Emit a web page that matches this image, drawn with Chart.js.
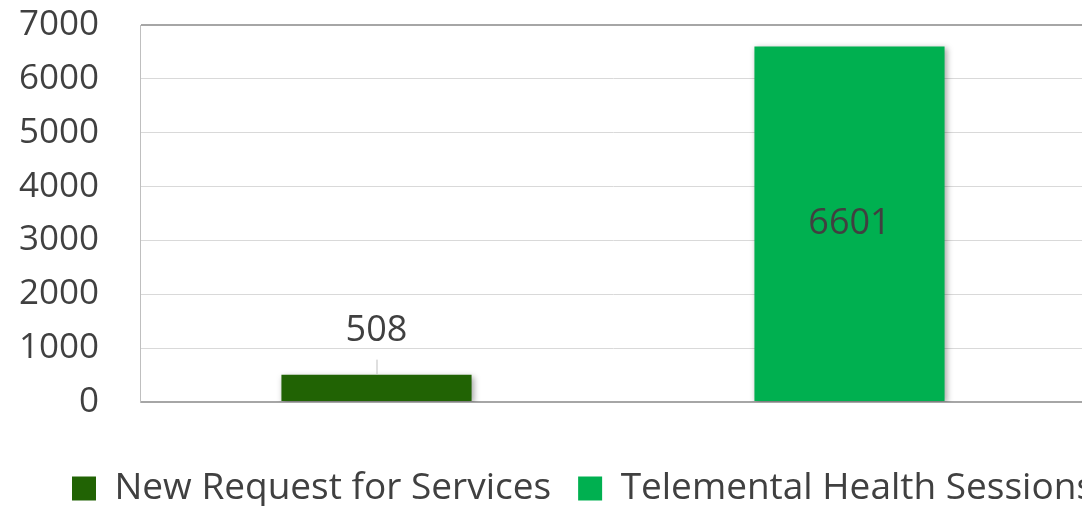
<!DOCTYPE html>
<html>
<head>
<meta charset="utf-8">
<script src="https://cdn.jsdelivr.net/npm/chart.js@4.4.1/dist/chart.umd.min.js"></script>
<style>
  html, body { margin: 0; padding: 0; background: #fff; overflow: hidden; }
  #wrap { width: 1082px; height: 506px; overflow: hidden; }
  canvas { display: block; }
</style>
</head>
<body>
<div id="wrap"><canvas id="chart" width="1166" height="506"></canvas></div>
<script>
const categories = ['', ''];
const seriesNames = ['New Request for Services', 'Telemental Health Sessions'];
const requestValues = [508, null];
const sessionValues = [null, 6601];
const yTicks = [0, 1000, 2000, 3000, 4000, 5000, 6000, 7000];

const textColor = '#404040';
const fontFamily = '"Open Sans", "DejaVu Sans", sans-serif';

// data labels: small one sits above its bar with a leader line, big one sits inside
const barLabels = {
  id: 'barLabels',
  afterDatasetsDraw(chart) {
    const ctx = chart.ctx;
    ctx.save();
    ctx.font = '36px ' + fontFamily;
    ctx.fillStyle = textColor;
    ctx.textAlign = 'center';
    ctx.textBaseline = 'middle';
    chart.data.datasets.forEach((ds, i) => {
      chart.getDatasetMeta(i).data.forEach((bar, j) => {
        const v = ds.data[j];
        if (v == null) return;
        const h = bar.base - bar.y;
        if (h < 100) {
          ctx.strokeStyle = '#bfbfbf';
          ctx.lineWidth = 1;
          ctx.beginPath();
          ctx.moveTo(bar.x + 0.5, bar.y - 15);
          ctx.lineTo(bar.x + 0.5, bar.y);
          ctx.stroke();
          ctx.fillText(String(v), bar.x, bar.y - 44);
        } else {
          ctx.fillText(String(v), bar.x, (bar.y + bar.base) / 2);
        }
      });
    });
    ctx.restore();
  }
};

// soft shadow under the bars
const barShadow = {
  id: 'barShadow',
  beforeDatasetsDraw(chart) {
    const ctx = chart.ctx;
    ctx.save();
    ctx.shadowColor = 'rgba(0,0,0,0.35)';
    ctx.shadowBlur = 6;
    ctx.shadowOffsetX = 2;
    ctx.shadowOffsetY = 2;
  },
  afterDatasetsDraw(chart) {
    chart.ctx.restore();
  }
};

new Chart(document.getElementById('chart'), {
  type: 'bar',
  data: {
    labels: categories,
    datasets: [
      { label: seriesNames[0], data: requestValues, backgroundColor: '#216304', skipNull: true },
      { label: seriesNames[1], data: sessionValues, backgroundColor: '#00b050', skipNull: true }
    ]
  },
  options: {
    responsive: false,
    animation: false,
    barPercentage: 1,
    categoryPercentage: 0.402,
    layout: { padding: { top: 25, left: 0, right: 0, bottom: -11 } },
    plugins: {
      tooltip: { enabled: false },
      legend: {
        position: 'bottom',
        labels: {
          boxWidth: 24,
          boxHeight: 24,
          padding: 27,
          color: textColor,
          font: { family: fontFamily, size: 37 }
        }
      }
    },
    scales: {
      x: {
        ticks: { display: false },
        grid: { display: false },
        border: { display: false },
        afterFit(axis) { axis.height = 41; }
      },
      y: {
        min: 0,
        max: 7000,
        afterBuildTicks(axis) { axis.ticks = yTicks.map(v => ({ value: v })); },
        afterFit(axis) {
          axis.width = 140;
          axis.paddingTop = 21;
          axis.paddingBottom = 21;
        },
        ticks: {
          padding: 41,
          color: textColor,
          font: { family: fontFamily, size: 35 },
          callback: v => String(v)
        },
        grid: {
          drawTicks: false,
          color: c => (c.index === 0 || c.index === yTicks.length - 1) ? '#a6a6a6' : '#d9d9d9',
          lineWidth: c => (c.index === 0 || c.index === yTicks.length - 1) ? 2 : 1
        },
        border: { display: true, color: '#bfbfbf', width: 1 }
      },
      // empty spacer on the right so the plot ends where the original does
      spacer: {
        type: 'linear',
        position: 'right',
        display: true,
        ticks: { display: false },
        grid: { display: false },
        border: { display: false },
        afterFit(axis) { axis.width = 80; }
      }
    }
  },
  plugins: [barShadow, barLabels]
});
</script>
</body>
</html>
